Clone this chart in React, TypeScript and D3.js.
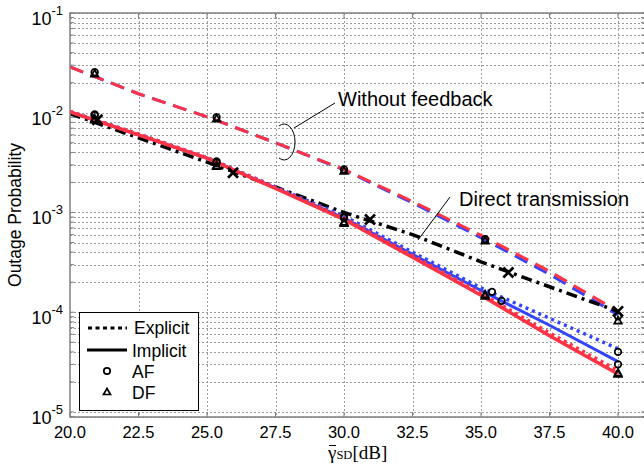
import React from 'react'
import * as d3 from 'd3'

// SNR grid of the analytical curves
const snr = [20, 22.5, 25, 27.5, 30, 32.5, 35, 37.5, 40]
const xTicks = [20, 22.5, 25, 27.5, 30, 32.5, 35, 37.5, 40]
const yDecades = [-1, -2, -3, -4, -5]

// without feedback (dashed)
const noFbDF = [0.0288, 0.0155, 0.0091, 0.005, 0.0027, 0.00129, 5.9e-4, 2.57e-4, 1.02e-4]
const noFbAF = [0.0288, 0.0155, 0.0091, 0.005, 0.00267, 0.00125, 5.6e-4, 2.4e-4, 9.4e-5]
// cooperative with feedback
const afExplicit = [0.0103, 0.0061, 0.00355, 0.0018, 9.2e-4, 4.0e-4, 1.75e-4, 8.7e-5, 4.3e-5]
const afImplicit = [0.0102, 0.006, 0.0035, 0.00176, 8.8e-4, 3.8e-4, 1.65e-4, 7.4e-5, 3.2e-5]
const dfExplicit = [0.0103, 0.0061, 0.00355, 0.00178, 8.8e-4, 3.7e-4, 1.55e-4, 6.2e-5, 2.6e-5]
const dfImplicit = [0.0102, 0.006, 0.0035, 0.00174, 8.5e-4, 3.55e-4, 1.48e-4, 5.8e-5, 2.4e-5]
// direct transmission
const direct = [0.0098, 0.0056, 0.0032, 0.0018, 0.001, 6.0e-4, 3.2e-4, 1.8e-4, 1.02e-4]

// simulation markers
const directMarkX = [21, 25.95, 30.95, 36, 40]
const directMarkY = [8.5e-3, 2.5e-3, 8.5e-4, 2.5e-4, 1.02e-4]
const simX = [20.9, 25.35, 30, 35.15, 40]
const noFbAFMark = [0.0255, 0.009, 0.0027, 5.4e-4, 9.1e-5]
const noFbDFMark = [0.0245, 0.0087, 0.0026, 5.2e-4, 8.2e-5]
const afExplicitMarkX = [20.9, 25.35, 30, 35.4, 40]
const afExplicitMark = [9.6e-3, 3.25e-3, 9.1e-4, 1.6e-4, 4.0e-5]
const afImplicitMarkX = [20.9, 25.35, 30, 35.75, 40]
const afImplicitMark = [9.4e-3, 3.15e-3, 8.8e-4, 1.3e-4, 3.0e-5]
const dfExplicitMark = [8.7e-3, 2.95e-3, 8.0e-4, 1.5e-4, 2.45e-5]
const dfImplicitMark = [8.5e-3, 2.9e-3, 7.8e-4, 1.45e-4, 2.4e-5]

const RED = '#ff3344'
const BLUE = '#3344ff'
const GRID = '#9a9a9a'
const FRAME = '#808080'
const SANS = '"Liberation Sans", Arial, Helvetica, sans-serif'

const left = 70, right = 645, top = 13, bottom = 417

const x = d3.scaleLinear().domain([20, 40.985]).range([left, right])
const y = d3.scaleLog().domain([8.9e-6, 0.1]).range([bottom, top])

const line = d3.line<[number, number]>().x((d) => x(d[0])).y((d) => y(d[1]))
const path = (xs: number[], ys: number[]) => line(xs.map((v, i) => [v, ys[i]]) as [number, number][]) || ''

const minorValues: number[] = []
for (let k = -6; k <= -1; k++) {
  for (let m = 1; m <= 9; m++) {
    const v = m * Math.pow(10, k)
    if (v >= 8.9e-6 && v <= 0.1) minorValues.push(v)
  }
}

const Circle = ({ cx, cy }: { cx: number; cy: number }) => (
  <circle cx={cx} cy={cy} r={3.3} fill="none" stroke="#000" strokeWidth={1.7} />
)
const Tri = ({ cx, cy }: { cx: number; cy: number }) => (
  <path d={`M${cx},${cy - 4.2}L${cx + 3.8},${cy + 2.8}L${cx - 3.8},${cy + 2.8}Z`} fill="none" stroke="#000" strokeWidth={1.7} />
)
const Cross = ({ cx, cy }: { cx: number; cy: number }) => (
  <path d={`M${cx - 5},${cy - 5}L${cx + 5},${cy + 5}M${cx - 5},${cy + 5}L${cx + 5},${cy - 5}`} stroke="#000" strokeWidth={2.6} />
)

export default function App() {
  return (
    <svg width={644} height={466} style={{ position: 'absolute', left: 0, top: 0, background: '#fff' }}>
      <defs>
        <clipPath id="plot">
          <rect x={left} y={top} width={right - left} height={bottom - top} />
        </clipPath>
      </defs>
      <rect width={644} height={466} fill="#fff" />

      {/* grid */}
      <g stroke={GRID} strokeWidth={1} strokeDasharray="2,2">
        {minorValues.map((v) => (
          <line key={v} x1={left} x2={right} y1={Math.round(y(v)) + 0.5} y2={Math.round(y(v)) + 0.5} />
        ))}
        {xTicks.slice(1).map((t) => (
          <line key={t} x1={Math.round(x(t)) + 0.5} x2={Math.round(x(t)) + 0.5} y1={top} y2={bottom} />
        ))}
      </g>

      {/* ticks */}
      <g stroke={FRAME} strokeWidth={1}>
        {minorValues.map((v) => (
          <g key={v}>
            <line x1={left} x2={left + 4} y1={y(v)} y2={y(v)} />
            <line x1={right - 4} x2={right} y1={y(v)} y2={y(v)} />
          </g>
        ))}
        {xTicks.map((t) => (
          <g key={t}>
            <line x1={x(t)} x2={x(t)} y1={top} y2={top + 5} />
            <line x1={x(t)} x2={x(t)} y1={bottom} y2={bottom - 5} />
          </g>
        ))}
      </g>

      {/* curves */}
      <g clipPath="url(#plot)" fill="none" strokeLinejoin="round">
        <path d={path(snr, noFbAF)} stroke={BLUE} strokeWidth={3} strokeDasharray="14,8" />
        <path d={path(snr, noFbDF)} stroke={RED} strokeWidth={3} strokeDasharray="14,8" />
        <path d={path(snr, direct)} stroke="#000" strokeWidth={3.5} strokeDasharray="11,5,3,5" />
        <path d={path(snr, afExplicit)} stroke={BLUE} strokeWidth={3.5} strokeDasharray="3,4" />
        <path d={path(snr, afImplicit)} stroke={BLUE} strokeWidth={3} />
        <path d={path(snr, dfExplicit)} stroke={RED} strokeWidth={3.5} strokeDasharray="3,4" />
        <path d={path(snr, dfImplicit)} stroke={RED} strokeWidth={3.5} />
      </g>

      {/* markers */}
      <g>
        {simX.map((v, i) => <Circle key={'na' + i} cx={x(v)} cy={y(noFbAFMark[i])} />)}
        {simX.map((v, i) => <Tri key={'nd' + i} cx={x(v)} cy={y(noFbDFMark[i])} />)}
        {afExplicitMarkX.map((v, i) => <Circle key={'ae' + i} cx={x(v)} cy={y(afExplicitMark[i])} />)}
        {afImplicitMarkX.map((v, i) => <Circle key={'ai' + i} cx={x(v)} cy={y(afImplicitMark[i])} />)}
        {simX.map((v, i) => <Tri key={'de' + i} cx={x(v)} cy={y(dfExplicitMark[i])} />)}
        {simX.map((v, i) => <Tri key={'di' + i} cx={x(v)} cy={y(dfImplicitMark[i])} />)}
        {directMarkX.map((v, i) => <Cross key={'dx' + i} cx={x(v)} cy={y(directMarkY[i])} />)}
      </g>

      {/* frame */}
      <path d={`M${right},${top}H${left}V${bottom}H${right}`} fill="none" stroke={FRAME} strokeWidth={1.5} />

      {/* annotations */}
      <g fontFamily={SANS} fontSize={20} fill="#000">
        <text x={338} y={106}>Without feedback</text>
        <text x={459} y={206}>Direct transmission</text>
      </g>
      <g fill="none" stroke="#000" strokeWidth={1}>
        <path d="M335,103L294,128" />
        <path d="M279,126A11,18 0 1,1 279,158" />
        <path d="M450,197L418,240" />
      </g>

      {/* y tick labels */}
      <g fontFamily={SANS} fill="#000" textAnchor="end">
        {yDecades.map((k) => (
          <text key={k} x={63} y={y(Math.pow(10, k)) + 12} fontSize={18}>
            10<tspan dy={-10} fontSize={13}>{k}</tspan>
          </text>
        ))}
      </g>

      {/* x tick labels */}
      <g fontFamily={SANS} fill="#000" textAnchor="middle" fontSize={16.5}>
        {xTicks.map((t) => (
          <text key={t} x={x(t)} y={438}>{t.toFixed(1)}</text>
        ))}
      </g>

      {/* axis titles */}
      <text transform="translate(21,215) rotate(-90)" textAnchor="middle" fontFamily={SANS} fontSize={17.5}>
        Outage Probability
      </text>
      <g fontFamily='"Liberation Serif", "Times New Roman", serif' fill="#000">
        <text x={328} y={459} fontSize={19}>
          γ<tspan fontSize={12.5}>SD</tspan><tspan fontSize={19}>[dB]</tspan>
        </text>
        <line x1={329} x2={336} y1={445.5} y2={445.5} stroke="#000" strokeWidth={1} />
      </g>

      {/* legend */}
      <g>
        <rect x={79.5} y={312.5} width={119} height={98} fill="#fff" stroke="#000" strokeWidth={1} />
        <line x1={88} x2={127} y1={328} y2={328} stroke="#000" strokeWidth={3} strokeDasharray="4,3.5" />
        <line x1={87} x2={127} y1={350} y2={350} stroke="#000" strokeWidth={3} />
        <circle cx={107} cy={371} r={3.2} fill="none" stroke="#000" strokeWidth={1.7} />
        <path d="M107,388.5L110.5,394.5L103.5,394.5Z" fill="none" stroke="#000" strokeWidth={1.7} />
        <g fontFamily={SANS} fontSize={17.5} fill="#000">
          <text x={134} y={334}>Explicit</text>
          <text x={132} y={357}>Implicit</text>
          <text x={132} y={378}>AF</text>
          <text x={132} y={399}>DF</text>
        </g>
      </g>
    </svg>
  )
}
